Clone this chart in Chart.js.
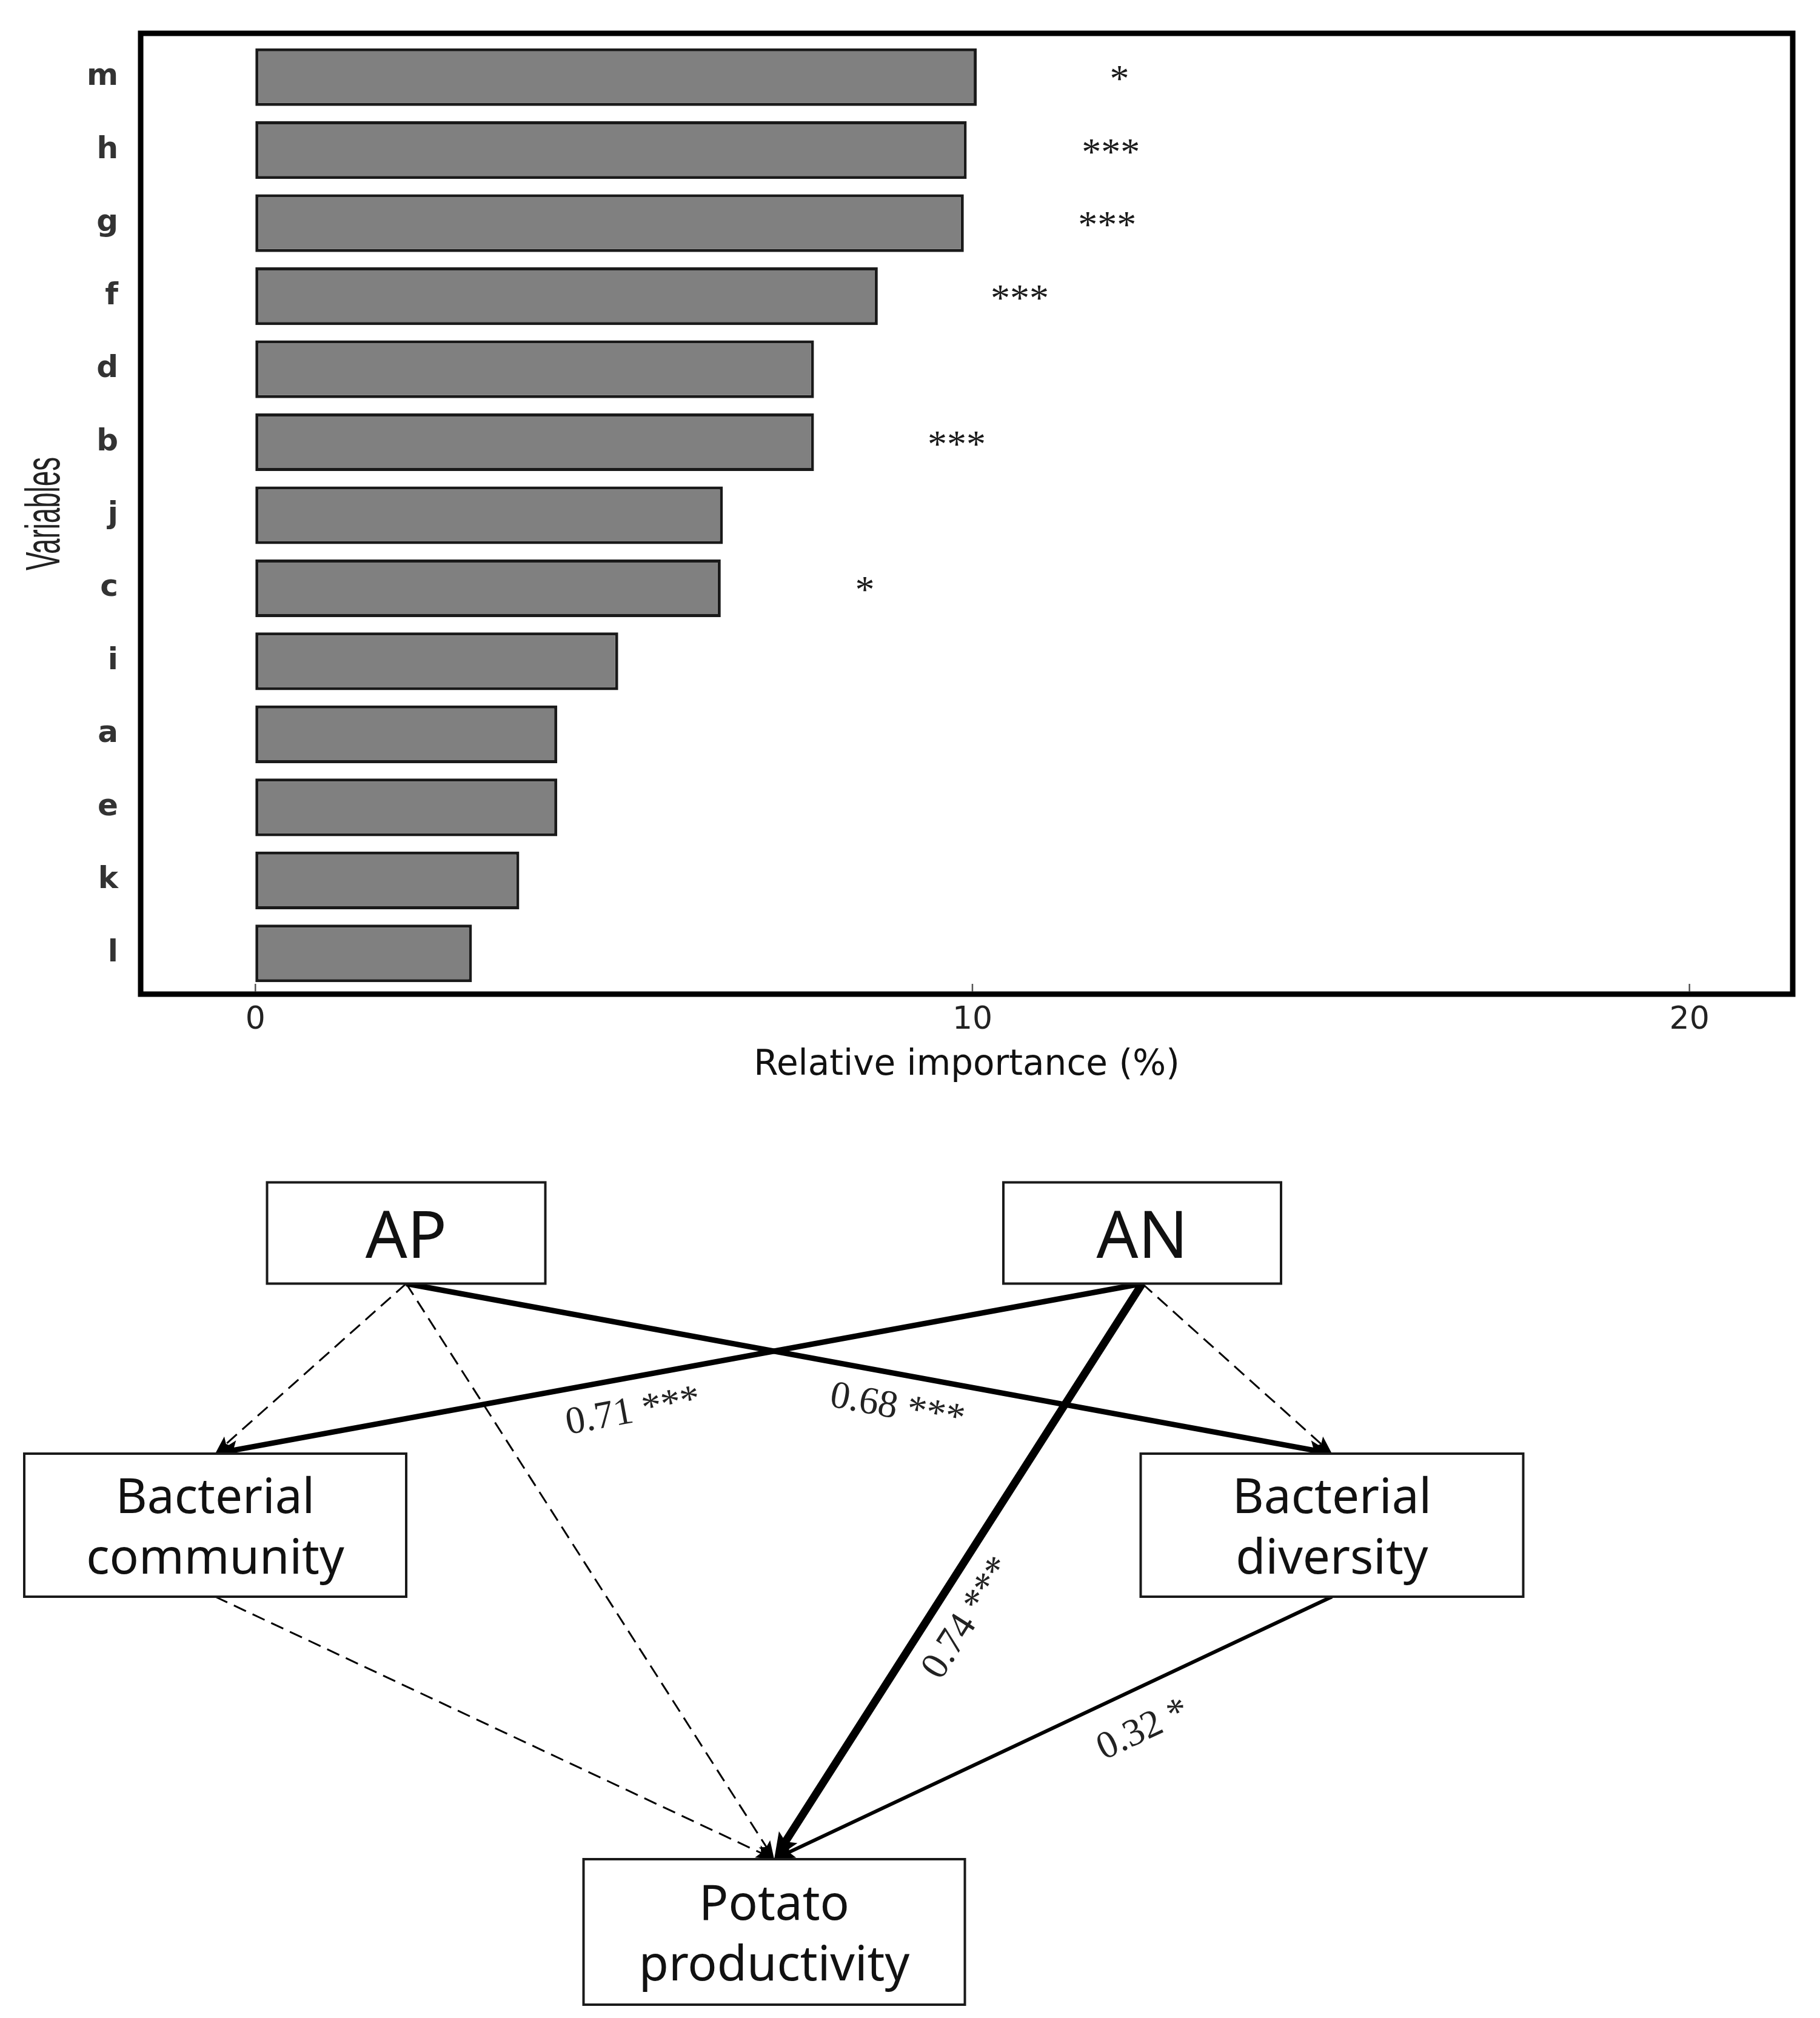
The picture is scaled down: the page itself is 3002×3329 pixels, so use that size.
<!DOCTYPE html>
<html lang="en">
<head>
<meta charset="UTF-8">
<title>Relative importance and path model</title>
<script src="https://cdn.jsdelivr.net/npm/chart.js@4.4.1/dist/chart.umd.min.js"></script>
<style>
  html, body { margin:0; padding:0; background:#fff; }
  .page { position:relative; width:3002px; height:3329px; background:#fff; overflow:hidden; }
  #barChart { position:absolute; left:0; top:0; }
  #pathChart { position:absolute; left:0; top:1830px; }
</style>
</head>
<body>
<div class="page">
  <canvas id="barChart" width="3002" height="1830"></canvas>
  <canvas id="pathChart" width="3002" height="1499"></canvas>
</div>
<script>
// relative importance (top panel)
const variables = ['m', 'h', 'g', 'f', 'd', 'b', 'j', 'c', 'i', 'a', 'e', 'k', 'l'];
const importance = [10.06, 9.92, 9.88, 8.68, 7.79, 7.79, 6.52, 6.49, 5.06, 4.21, 4.21, 3.68, 3.02];
const signifMarks = ['*', '***', '***', '***', '', '***', '', '*', '', '', '', '', ''];
const signifAt = [12.05, 11.93, 11.88, 10.66, null, 9.78, null, 8.50, null, null, null, null, null];
const xTicks = [0, 10, 20];

// path model (bottom panel)
const nodeNames = [['AP'], ['AN'], ['Bacterial', 'community'], ['Bacterial', 'diversity'], ['Potato', 'productivity']];
const pathFrom = [0, 0, 0, 1, 1, 1, 2, 3];
const pathTo   = [2, 4, 3, 2, 4, 3, 4, 4];
const pathCoef = [null, null, 0.68, 0.71, 0.74, null, null, 0.32];
const pathSig  = ['', '', '***', '***', '***', '', '', '*'];

// layout of the diagram boxes (canvas units)
const nodeBox = [
  {cx: 670,  cy: 204,  w: 459, h: 167, size: 108},
  {cx: 1884, cy: 204,  w: 458, h: 167, size: 108},
  {cx: 355,  cy: 686,  w: 630, h: 236, size: 80},
  {cx: 2197, cy: 686,  w: 631, h: 236, size: 80},
  {cx: 1277, cy: 1357, w: 629, h: 240, size: 80}
];
// where each coefficient sits: fraction along the path, side offset
const labelPlace = {2: [0.537, -56], 3: [0.556, 57], 4: [0.55, 56], 7: [0.369, 67]};

// ---------- top panel ----------
const framePlugin = {
  id: 'framePlugin',
  afterDatasetsDraw(chart) {
    const {ctx, chartArea: ca, scales: {x, y}} = chart;
    ctx.save();
    // significance stars
    ctx.font = '64px "Liberation Serif"';
    ctx.fillStyle = '#1a1a1a';
    ctx.textAlign = 'center';
    ctx.textBaseline = 'alphabetic';
    signifMarks.forEach((s, i) => {
      if (!s) return;
      ctx.fillText(s, x.getPixelForValue(signifAt[i]), y.getPixelForValue(i) + 24);
    });
    // box round the panel
    const top = ca.top - 12, bottom = ca.bottom + 7;
    ctx.lineWidth = 9;
    ctx.strokeStyle = '#000';
    ctx.strokeRect(ca.left, top, ca.right - ca.left, bottom - top);
    // small inward ticks
    ctx.lineWidth = 2.5;
    ctx.strokeStyle = '#555';
    xTicks.forEach(v => {
      const px = x.getPixelForValue(v);
      ctx.beginPath();
      ctx.moveTo(px, bottom - 4);
      ctx.lineTo(px, bottom - 17);
      ctx.stroke();
    });
    // y title, squeezed like the original
    ctx.font = '80px "Liberation Sans"';
    ctx.fillStyle = '#222';
    ctx.textBaseline = 'middle';
    ctx.translate(ca.left - 156, (top + bottom) / 2);
    ctx.rotate(-Math.PI / 2);
    const tw = ctx.measureText('Variables').width;
    ctx.scale(187 / tw, 1);
    ctx.fillText('Variables', 0, 0);
    ctx.restore();
  }
};

new Chart(document.getElementById('barChart'), {
  type: 'bar',
  data: {
    labels: variables,
    datasets: [{
      data: importance,
      backgroundColor: '#808080',
      borderColor: '#1a1a1a',
      borderWidth: 5,
      borderSkipped: false,
      barPercentage: 0.79,
      categoryPercentage: 1
    }]
  },
  options: {
    indexAxis: 'y',
    responsive: false,
    animation: false,
    devicePixelRatio: 1,
    layout: { padding: { top: 57, right: 45, left: 0, bottom: 0 } },
    plugins: { legend: { display: false }, tooltip: { enabled: false } },
    scales: {
      x: {
        type: 'linear',
        min: -1.6,
        max: 21.44,
        afterBuildTicks: s => { s.ticks = xTicks.map(v => ({ value: v })); },
        afterFit: s => { s.height = 197; },
        grid: { display: false, drawTicks: false },
        border: { display: false },
        ticks: { font: { family: 'DejaVu Sans', size: 52 }, color: '#222', padding: 19 },
        title: {
          display: true,
          text: 'Relative importance (%)',
          font: { family: 'DejaVu Sans', size: 58 },
          color: '#111',
          padding: { top: 0, bottom: 37 }
        }
      },
      y: {
        afterFit: s => { s.width = 232; },
        grid: { display: false, drawTicks: false },
        border: { display: false },
        ticks: { font: { family: 'DejaVu Sans', size: 50, weight: 'bold' }, color: '#333', padding: 37 }
      }
    }
  },
  plugins: [framePlugin]
});

// ---------- bottom panel ----------
function edgeWidth(i) {
  if (pathCoef[i] == null) return 3;
  return pathCoef[i] >= 0.72 ? 13 : pathCoef[i] >= 0.5 ? 9 : 6;
}
function headLen(w) { return 26 + w * 1.3; }

const edgeSets = pathFrom.map((f, i) => {
  const a = nodeBox[f], b = nodeBox[pathTo[i]];
  const x1 = a.cx, y1 = a.cy + a.h / 2, x2 = b.cx, y2 = b.cy - b.h / 2;
  const len = Math.hypot(x2 - x1, y2 - y1);
  const w = edgeWidth(i), cut = headLen(w) * 0.6;
  return {
    data: [{x: x1, y: y1}, {x: x2 - (x2 - x1) / len * cut, y: y2 - (y2 - y1) / len * cut}],
    showLine: true,
    borderColor: '#000',
    borderWidth: w,
    borderDash: pathSig[i] ? [] : [22, 12],
    pointRadius: 0,
    fill: false,
    from: {x: x1, y: y1},
    tip: {x: x2, y: y2}
  };
});

const diagramPlugin = {
  id: 'diagramPlugin',
  afterDatasetsDraw(chart) {
    const {ctx, scales: {x, y}} = chart;
    ctx.save();
    // arrow heads
    edgeSets.forEach((d, i) => {
      const sx = x.getPixelForValue(d.from.x), sy = y.getPixelForValue(d.from.y);
      const tx = x.getPixelForValue(d.tip.x), ty = y.getPixelForValue(d.tip.y);
      const ang = Math.atan2(ty - sy, tx - sx);
      const w = edgeWidth(i), L = headLen(w), H = 9 + w * 0.7;
      ctx.save();
      ctx.translate(tx, ty);
      ctx.rotate(ang);
      ctx.fillStyle = '#000';
      ctx.beginPath();
      ctx.moveTo(0, 0);
      ctx.lineTo(-L, -H);
      ctx.lineTo(-L * 0.8, 0);
      ctx.lineTo(-L, H);
      ctx.closePath();
      ctx.fill();
      ctx.restore();
    });
    // boxes and their names
    nodeBox.forEach((n, i) => {
      const left = x.getPixelForValue(n.cx - n.w / 2), right = x.getPixelForValue(n.cx + n.w / 2);
      const top = y.getPixelForValue(n.cy - n.h / 2), bottom = y.getPixelForValue(n.cy + n.h / 2);
      ctx.fillStyle = '#fff';
      ctx.fillRect(left, top, right - left, bottom - top);
      ctx.lineWidth = 4;
      ctx.strokeStyle = '#1a1a1a';
      ctx.strokeRect(left, top, right - left, bottom - top);
      ctx.fillStyle = '#111';
      ctx.font = n.size + 'px "Noto Sans"';
      ctx.textAlign = 'center';
      ctx.textBaseline = 'alphabetic';
      const cx = x.getPixelForValue(n.cx), cy = y.getPixelForValue(n.cy);
      const lines = nodeNames[i];
      if (lines.length === 1) {
        ctx.fillText(lines[0], cx, cy + 41);
      } else {
        ctx.fillText(lines[0], cx, cy - 20);
        ctx.fillText(lines[1], cx, cy + 80);
      }
    });
    // path coefficients
    ctx.font = '64px "Liberation Serif"';
    ctx.fillStyle = '#222';
    ctx.textAlign = 'center';
    ctx.textBaseline = 'middle';
    pathCoef.forEach((c, i) => {
      if (c == null) return;
      const d = edgeSets[i];
      const sx = x.getPixelForValue(d.from.x), sy = y.getPixelForValue(d.from.y);
      const tx = x.getPixelForValue(d.tip.x), ty = y.getPixelForValue(d.tip.y);
      const dx = tx - sx, dy = ty - sy, len = Math.hypot(dx, dy);
      const [t, off] = labelPlace[i];
      const lx = sx + dx * t + dy / len * off, ly = sy + dy * t - dx / len * off;
      let ang = Math.atan2(dy, dx);
      if (dx < 0) ang += Math.PI;
      ctx.save();
      ctx.translate(lx, ly);
      ctx.rotate(ang);
      ctx.fillText(c.toFixed(2) + ' ' + pathSig[i], 0, 0);
      ctx.restore();
    });
    ctx.restore();
  }
};

new Chart(document.getElementById('pathChart'), {
  type: 'scatter',
  data: { datasets: edgeSets },
  options: {
    responsive: false,
    animation: false,
    devicePixelRatio: 1,
    layout: { padding: 0 },
    plugins: { legend: { display: false }, tooltip: { enabled: false } },
    scales: {
      x: { type: 'linear', min: 0, max: 3002, display: false },
      y: { type: 'linear', min: 0, max: 1499, reverse: true, display: false }
    }
  },
  plugins: [diagramPlugin]
});
</script>
</body>
</html>
